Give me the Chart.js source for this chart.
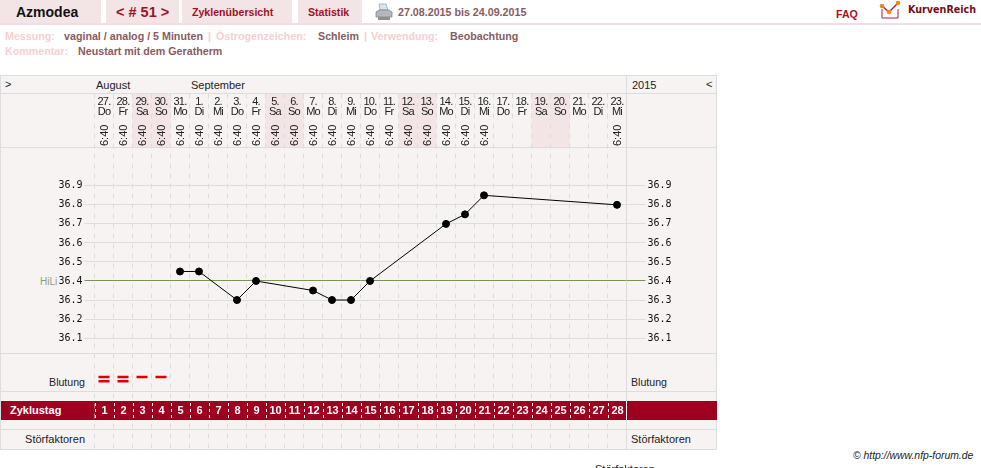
<!DOCTYPE html>
<html>
<head>
<meta charset="utf-8">
<title>Azmodea # 51</title>
<script src="https://cdn.jsdelivr.net/npm/chart.js@4"></script>
<style>
html, body { margin: 0; padding: 0; background: #fff; width: 981px; height: 468px; overflow: hidden; }
body { position: relative; font-family: "Liberation Sans", Arial, sans-serif; font-size: 11px; color: #222; }
.abs { position: absolute; white-space: nowrap; line-height: 14px; }
.box { position: absolute; }
.tab { background: #f3e4e6; top: 0; height: 23px; }
.red { color: #a01225; font-weight: bold; font-size: 10.6px; }
.mut { color: #f5cfd2; font-weight: bold; font-size: 10.7px; }
.val { color: #8a5a62; font-weight: bold; font-size: 10.7px; }
canvas { position: absolute; left: 0; top: 0; }
</style>
</head>
<body>
<!-- page header -->
<div class="box tab" style="left:0;width:101px"></div>
<div class="box tab" style="left:106px;width:73px"></div>
<div class="box tab" style="left:182px;width:110px"></div>
<div class="box tab" style="left:298px;width:64px"></div>
<div class="box" style="left:0;top:23px;width:981px;height:2px;background:#f3dde0"></div>

<div class="abs" style="left:16px;top:5px;font-size:14px;font-weight:bold;color:#111">Azmodea</div>
<div class="abs red" style="left:116px;top:5px;font-size:14.5px">&lt; # 51 &gt;</div>
<div class="abs red" style="left:192px;top:5px">Zyklenübersicht</div>
<div class="abs red" style="left:308px;top:5px">Statistik</div>
<svg class="box" style="left:375px;top:3px" width="18" height="18" viewBox="0 0 18 18">
  <path d="M4 1h7l2 6H5z" fill="#d8e6f2" stroke="#8aa0b4" stroke-width=".7"/>
  <path d="M1 9l3-2h10l3 2v5H1z" fill="#b4b8bc" stroke="#7c8084" stroke-width=".7"/>
  <rect x="3" y="14" width="12" height="3" fill="#8c9094"/>
</svg>
<div class="abs val" style="left:398px;top:5px">27.08.2015 bis 24.09.2015</div>
<div class="abs red" style="left:836px;top:7px">FAQ</div>
<svg class="box" style="left:878px;top:0" width="30" height="20" viewBox="0 0 30 20">
  <path d="M4 9v9h16V9" fill="none" stroke="#b01840" stroke-width="1"/>
  <path d="M4 6l7 6 9-9" fill="none" stroke="#b01840" stroke-width="1.4"/>
  <circle cx="4" cy="6" r="2.3" fill="#f08a10"/><circle cx="11" cy="12" r="2.3" fill="#f08a10"/><circle cx="20" cy="3" r="2.3" fill="#f08a10"/>
</svg>
<div class="abs" style="left:908px;top:3px;font:bold 9.6px 'DejaVu Sans';line-height:14px;color:#7a0b1c">KurvenReich</div>

<div class="abs mut" style="left:5px;top:29px">Messung:</div>
<div class="abs val" style="left:64px;top:29px">vaginal / analog / 5 Minuten</div>
<div class="abs mut" style="left:208px;top:29px">|</div>
<div class="abs mut" style="left:216px;top:29px">Östrogenzeichen:</div>
<div class="abs val" style="left:318px;top:29px">Schleim</div>
<div class="abs mut" style="left:364px;top:29px">|</div>
<div class="abs mut" style="left:371px;top:29px">Verwendung:</div>
<div class="abs val" style="left:450px;top:29px">Beobachtung</div>
<div class="abs mut" style="left:5px;top:44px">Kommentar:</div>
<div class="abs val" style="left:78px;top:44px">Neustart mit dem Geratherm</div>

<!-- table frame behind the chart -->
<div class="box" style="left:0;top:75px;width:715px;height:373px;background:#f8f3f3;border:1px solid #dddddd"></div>
<div class="box" style="left:626px;top:75px;width:1px;height:374px;background:#dddddd"></div>
<div class="box" style="left:0;top:93px;width:717px;height:1px;background:#dddddd"></div>
<div class="box" style="left:0;top:147px;width:717px;height:1px;background:#dddddd"></div>
<div class="box" style="left:0;top:353px;width:717px;height:1px;background:#dddddd"></div>
<div class="box" style="left:0;top:391px;width:717px;height:1px;background:#dddddd"></div>
<div class="box" style="left:0;top:429px;width:717px;height:1px;background:#dddddd"></div>
<div class="box" style="left:1px;top:401px;width:716px;height:19px;background:#9e0020"></div>

<div class="abs" style="left:5px;top:77px">&gt;</div>
<div class="abs" style="left:96px;top:78px">August</div>
<div class="abs" style="left:191px;top:78px">September</div>
<div class="abs" style="left:632px;top:78px">2015</div>
<div class="abs" style="left:706px;top:77px">&lt;</div>
<div class="abs" style="left:40px;top:275px;font-size:10px;color:#8f9f78">HiLi</div>
<div class="abs" style="right:896px;top:375px;font-size:10.6px">Blutung</div>
<div class="abs" style="left:631px;top:375px;font-size:10.6px">Blutung</div>
<div class="abs" style="left:10px;top:403px;color:#fff;font-weight:bold">Zyklustag</div>
<div class="abs" style="right:896px;top:432px">Störfaktoren</div>
<div class="abs" style="left:631px;top:432px">Störfaktoren</div>
<div class="abs" style="left:853px;top:449px;font-style:italic;font-size:10.4px">© http://www.nfp-forum.de</div>
<div class="abs" style="left:595px;top:462px">Störfaktoren</div>

<canvas id="chart" width="981" height="468"></canvas>

<script>
const cycleDays = ['1','2','3','4','5','6','7','8','9','10','11','12','13','14','15','16','17','18','19','20','21','22','23','24','25','26','27','28'];
const dates = ['27.','28.','29.','30.','31.','1.','2.','3.','4.','5.','6.','7.','8.','9.','10.','11.','12.','13.','14.','15.','16.','17.','18.','19.','20.','21.','22.','23.'];
const weekdays = ['Do','Fr','Sa','So','Mo','Di','Mi','Do','Fr','Sa','So','Mo','Di','Mi','Do','Fr','Sa','So','Mo','Di','Mi','Do','Fr','Sa','So','Mo','Di','Mi'];
const times = ['6:40','6:40','6:40','6:40','6:40','6:40','6:40','6:40','6:40','6:40','6:40','6:40','6:40','6:40','6:40','6:40','6:40','6:40','6:40','6:40','6:40',null,null,null,null,null,null,'6:40'];
const temperatures = [null,null,null,null,36.45,36.45,null,36.3,36.4,null,null,36.35,36.3,36.3,36.4,null,null,null,36.7,36.75,36.85,null,null,null,null,null,null,36.8];
const bleeding = [2,2,1,1,0,0,0,0,0,0,0,0,0,0,0,0,0,0,0,0,0,0,0,0,0,0,0,0];
const tempTicks = [36.1,36.2,36.3,36.4,36.5,36.6,36.7,36.8,36.9];
const coverLine = 36.4;

// the whole table height shares one value scale, the extra rows sit outside the tick range
const scaleMax = 37.385;
const scaleMin = 35.52;
const bleedUpperRow = 35.895;
const bleedLowerRow = 35.873;

const bleedUpper = bleeding.map(n => n >= 1 ? bleedUpperRow : null);
const bleedLower = bleeding.map(n => n >= 2 ? bleedLowerRow : null);

// date row, weekend shading and the day numbers in the red band
const tablePlugin = {
    id: 'tableRows',
    beforeDraw(chart) {
        const c = chart.ctx, x = chart.scales.x;
        c.save();
        c.fillStyle = '#f3e4e6';
        weekdays.forEach((d, i) => {
            if (d === 'Sa' || d === 'So') {
                c.fillRect(x.getPixelForValue(i) - 9.5, 94, 19, 53);
            }
        });
        c.restore();
    },
    afterDatasetsDraw(chart) {
        const c = chart.ctx, x = chart.scales.x;
        c.save();
        c.fillStyle = '#9e0020';
        c.fillRect(x.left, 401, x.width, 19);
        c.textAlign = 'center';
        c.textBaseline = 'alphabetic';
        cycleDays.forEach((d, i) => {
            const px = x.getPixelForValue(i);
            c.fillStyle = '#222';
            c.font = '11px "Liberation Sans"';
            c.letterSpacing = '-0.8px';
            c.fillText(dates[i], px, 105);
            c.fillText(weekdays[i], px, 115);
            c.letterSpacing = '0px';
            if (times[i]) {
                c.save();
                c.translate(px + 4, 146);
                c.rotate(-Math.PI / 2);
                c.textAlign = 'left';
                c.font = '11px "Liberation Sans"';
                c.fillText(times[i], 0, 0);
                c.restore();
            }
            c.fillStyle = '#fff';
            c.font = 'bold 11px "Liberation Sans"';
            c.fillText(d, px + 0.5, 414);
            // band separators
            c.strokeStyle = '#fff';
            c.lineWidth = 1;
            c.setLineDash([3, 3]);
            c.beginPath();
            c.moveTo(Math.round(px - 9.5) + 0.5, 403);
            c.lineTo(Math.round(px - 9.5) + 0.5, 420);
            c.stroke();
        });
        c.setLineDash([]);
        c.fillStyle = '#fff';
        c.fillRect(626, 401, 1, 19);
        c.restore();
    }
};

new Chart(document.getElementById('chart'), {
    type: 'line',
    plugins: [tablePlugin],
    data: {
        labels: cycleDays,
        datasets: [
            {
                label: 'Temperatur', data: temperatures, yAxisID: 'y', spanGaps: true,
                borderColor: '#000', backgroundColor: '#000', borderWidth: 1,
                pointRadius: 3.5, pointHoverRadius: 3.5, tension: 0
            },
            {
                label: 'Blutung', data: bleedUpper, yAxisID: 'y', showLine: false, pointStyle: 'line',
                pointRadius: 5.5, pointBorderWidth: 2.5, pointBorderColor: '#dd0000'
            },
            {
                label: 'Blutung 2', data: bleedLower, yAxisID: 'y', showLine: false, pointStyle: 'line',
                pointRadius: 5.5, pointBorderWidth: 2.5, pointBorderColor: '#dd0000'
            }
        ]
    },
    options: {
        responsive: false,
        animation: false,
        devicePixelRatio: 1,
        layout: { padding: { top: 93.5, bottom: 19.5 } },
        plugins: { legend: { display: false }, tooltip: { enabled: false } },
        scales: {
            x: {
                type: 'category',
                offset: true,
                border: { display: false, dash: [5, 5] },
                ticks: { display: false },
                afterFit: s => { s.height = 0; },
                grid: { offset: true, color: '#dddddd', drawTicks: false }
            },
            y: {
                position: 'left',
                min: scaleMin,
                max: scaleMax,
                border: { display: false },
                afterBuildTicks: s => { s.ticks = tempTicks.map(v => ({ value: v })); },
                afterFit: s => { s.width = 94.5; },
                ticks: {
                    padding: 2,
                    autoSkip: false,
                    font: { family: '"DejaVu Sans Mono"', size: 10 },
                    color: '#111',
                    callback: v => v.toFixed(1)
                },
                grid: {
                    tickLength: 10,
                    color: c => (c.tick && c.tick.value === coverLine) ? '#78964f' : '#dddddd',
                    tickColor: c => (c.tick && c.tick.value === coverLine) ? '#78964f' : '#dddddd'
                }
            },
            y1: {
                position: 'right',
                min: scaleMin,
                max: scaleMax,
                border: { display: false },
                afterBuildTicks: s => { s.ticks = tempTicks.map(v => ({ value: v })); },
                afterFit: s => { s.width = 354.5; },
                ticks: {
                    padding: 2,
                    autoSkip: false,
                    font: { family: '"DejaVu Sans Mono"', size: 10 },
                    color: '#111',
                    callback: v => v.toFixed(1)
                },
                grid: {
                    drawOnChartArea: false,
                    tickLength: 19,
                    tickColor: c => (c.tick && c.tick.value === coverLine) ? '#78964f' : '#dddddd'
                }
            }
        }
    }
});
</script>
</body>
</html>
